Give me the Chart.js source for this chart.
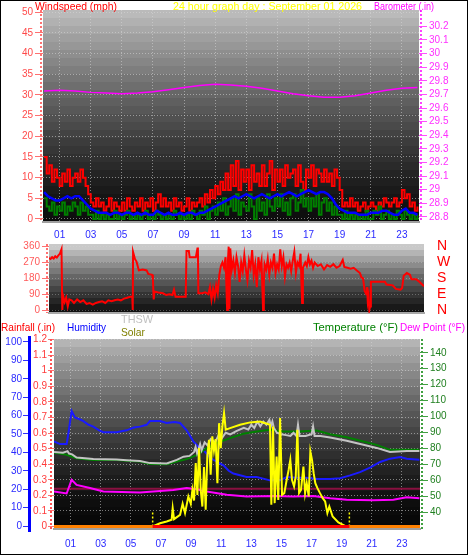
<!DOCTYPE html>
<html>
<head>
<meta charset="utf-8">
<script src="https://cdn.jsdelivr.net/npm/chart.js@4.4.1/dist/chart.umd.min.js"></script>
<style>
html,body{margin:0;padding:0;background:#fff;}
#wrap{position:relative;width:468px;height:555px;overflow:hidden;background:#fff;}
#wrap canvas{position:absolute;left:0;}
#frame{position:absolute;left:0;top:0;width:468px;height:555px;box-sizing:border-box;border:1px solid #000;pointer-events:none;}
.t{position:absolute;font-family:"Liberation Sans",Arial,sans-serif;font-size:11px;line-height:12px;white-space:nowrap;transform-origin:left top;}
</style>
</head>
<body>
<div id="wrap">
<canvas id="c1" width="468" height="245" style="top:0px"></canvas>
<canvas id="c2" width="468" height="80" style="top:238px"></canvas>
<canvas id="c3" width="468" height="235" style="top:320px"></canvas>
<div class="t" data-w="82" style="left:35px;top:0px;color:#ff0000">Windspeed (mph)</div>
<div class="t" data-w="189" style="left:173px;top:0px;color:#ffff00">24 hour graph day : September 01 2026</div>
<div class="t" data-w="60" style="left:374px;top:0px;color:#ff00ff">Barometer (.in)</div>
<div class="t" data-w="54" style="left:1px;top:321px;color:#ff0000">Rainfall (.in)</div>
<div class="t" data-w="39" style="left:67px;top:321px;color:#0000ff">Humidity</div>
<div class="t" data-w="32" style="left:121px;top:313px;color:#c0c0c0">THSW</div>
<div class="t" data-w="24" style="left:121px;top:326px;color:#808000">Solar</div>
<div class="t" data-w="85" style="left:313px;top:321px;color:#008000">Temperature (°F)</div>
<div class="t" data-w="65" style="left:400px;top:321px;color:#ff00ff">Dew Point (°F)</div>
<div id="frame"></div>
</div>
<script>
// ================= DATA =================
const hourTicks = [1,3,5,7,9,11,13,15,17,19,21,23];
const hourTickLabels = ['01','03','05','07','09','11','13','15','17','19','21','23'];

const windTicks = [0,5,10,15,20,25,30,35,40,45,50];
const baroTicks = [28.8,28.9,29,29.1,29.2,29.3,29.4,29.5,29.6,29.7,29.8,29.9,30,30.1,30.2];
const baroTickLabels = ['28.8','28.9','29','29.1','29.2','29.3','29.4','29.5','29.6','29.7','29.8','29.9','30','30.1','30.2'];
const dirTicks = [0,90,180,270,360];
const dirTickLabels = ['0','90','180','270','360'];
const compassLabels = ['N','E','S','W','N'];
const humTicks = [0,10,20,30,40,50,60,70,80,90,100];
const rainTicks = [0,0.1,0.2,0.3,0.4,0.5,0.6,0.7,0.8,0.9,1,1.1,1.2];
const rainTickLabels = ['0','0.1','0.2','0.3','0.4','0.5','0.6','0.7','0.8','0.9','1','1.1','1.2'];
const tempTicks = [40,50,60,70,80,90,100,110,120,130,140];

// wind: 10-minute samples (gust, speed), 15-minute samples (average)
const windGust = [
 15,11,13,9,12,10,  8,11,9,12,8,10,  11,9,12,10,8,6,  4,3,5,3,4,2,
 3,5,2,4,3,2,  4,2,5,3,2,4,  3,5,2,4,3,5,  2,4,6,3,5,3,
 4,2,5,3,4,2,  3,5,2,4,3,4,  5,3,6,4,7,5,  8,6,9,7,11,7,
 13,8,14,7,12,9,  12,7,13,9,11,8,  13,8,11,14,7,12,  9,12,8,13,10,11,
 12,8,13,9,7,12,  10,13,8,12,11,9,  12,9,11,8,12,10,  7,3,4,3,5,3,
 4,2,3,4,2,3,  4,3,2,4,3,5,  4,3,4,5,3,4,  7,5,6,3,4,2,  3];
const windSpeed = [
 5,3,2,4,1,3,  2,4,1,3,2,4,  3,1,4,2,3,1,  1,0,2,0,1,0,
 1,0,0,2,0,1,  0,1,2,0,1,0,  1,0,1,2,0,1,  0,2,1,0,1,0,
 1,0,2,1,0,1,  0,1,0,2,1,0,  2,1,3,0,2,3,  1,4,2,5,1,3,
 5,2,6,1,4,3,  2,6,3,0,5,2,  4,1,6,3,2,5,  3,6,2,4,1,5,
 6,2,4,7,3,5,  2,5,3,6,1,4,  5,2,4,1,3,1,  1,0,2,0,1,0,
 1,0,1,0,2,0,  0,2,1,3,0,1,  2,0,1,0,2,1,  0,2,1,0,1,0,  1];
const windAvg = [
 6.5,5.5,5,4.5,  4.5,5,5.5,5,  5.5,5.5,4.5,3.5,  2.5,2,1.5,1.5,
 1.5,1,1.5,1.5,  1,1.5,1.5,1,  1.5,1,1.5,1,  1,2,1.5,1,
 1.5,1,1,1.5,  1,1.5,1.5,1,  1.5,1.5,2,2.5,  3,3.5,4,4.5,
 5,5.5,5,5.5,  6,5.5,5,5.5,  6,5.5,5,5.5,  6,5.5,6,6.5,
 6,5.5,6,6.5,  7,6.5,6,6.5,  6.5,6,5,3.5,  2.5,2,1.5,1.5,
 1.5,1,1,1,  1.5,1.5,1.5,2,  2,1.5,1,1,  2,2.5,1.5,1.5,  1];

const baroHours = [0,1,2,3,4,5,6,7,8,9,10,11,12,13,14,15,16,17,18,19,20,21,22,23,24];
const barometer = [29.725,29.73,29.725,29.715,29.71,29.705,29.71,29.72,29.735,29.75,29.765,29.775,29.77,29.76,29.745,29.725,29.705,29.69,29.68,29.68,29.69,29.71,29.73,29.745,29.75];

const dirHours = [
 0,0.1,0.2,0.3,0.4,0.5,0.6,0.7,0.8,0.85,
 0.9,1.0,1.1,1.2,1.3,1.45,1.6,1.8,2.0,2.2,
 2.4,2.6,2.8,3.0,3.2,3.4,3.6,3.8,4.0,4.2,
 4.4,4.6,4.8,5.0,5.2,5.33,5.36,5.38,5.5,5.6,
 5.75,6.0,6.25,6.35,6.6,6.65,6.7,6.75,7.0,7.3,
 7.5,7.7,7.9,8.0,8.1,8.4,8.75,8.8,8.95,9.0,
 9.4,9.5,9.53,9.56,9.8,10.0,10.2,10.3,10.4,10.5,
 10.6,10.7,10.8,10.9,11.0,11.1,11.2,11.3,11.4,11.45,
 11.5,11.55,11.6,11.7,11.8,11.9,12.0,12.1,12.2,12.3,
 12.4,12.5,12.6,12.7,12.8,12.9,13.0,13.1,13.2,13.3,
 13.4,13.5,13.6,13.7,13.75,13.8,13.9,14.0,14.1,14.2,
 14.3,14.4,14.5,14.6,14.7,14.8,14.9,15.0,15.1,15.2,
 15.3,15.4,15.5,15.6,15.7,15.8,15.9,16.0,16.1,16.2,
 16.25,16.4,16.5,16.6,16.7,16.8,16.9,17.0,17.2,17.4,
 17.6,17.8,18.0,18.2,18.4,18.6,18.8,18.9,19.1,19.3,
 19.5,19.7,19.9,20.0,20.1,20.2,20.3,20.35,20.4,20.45,
 20.5,20.55,20.6,21.0,21.5,21.6,22.0,22.2,22.5,22.6,
 22.7,22.9,23.1,23.2,23.5,23.7,24.0];
const dirDegrees = [
 295,290,300,292,305,298,310,320,345,0,
 80,45,70,20,60,55,40,60,45,55,
 35,40,30,40,45,50,40,55,50,55,
 60,55,65,70,75,75,0,330,290,275,
 225,230,225,205,200,175,60,105,100,95,
 85,90,85,115,75,75,75,335,335,300,
 300,350,355,95,95,100,90,130,60,120,
 70,140,95,200,250,270,240,300,0,280,
 360,5,350,230,280,210,300,250,160,270,
 220,310,230,170,280,240,340,200,260,130,
 300,230,280,0,150,260,230,290,200,270,
 240,320,210,260,230,345,250,300,190,260,
 240,270,220,280,330,210,270,250,320,40,
 240,270,250,300,260,280,240,270,250,260,
 230,255,245,260,240,250,285,245,240,235,
 240,225,210,185,180,110,90,130,50,80,
 0,20,160,160,160,145,140,120,115,125,
 195,210,200,175,175,160,135];

const humHours = [-0.1,0.3,0.74,0.85,1.07,1.29,1.6,1.85,2.2,2.51,2.9,3.18,4.06,4.72,5.2,5.61,6.05,6.27,6.94,7.38,7.9,8.27,8.71,9.15,9.5,9.82,10.15,10.48,11.15,11.5,11.81,12.69,13.36,14.24,14.91,15.35,16.02,16.68,17.34,18.23,18.89,19.56,20.22,20.88,21.55,22.21,22.88,23.32,24.16];
const humidity = [46,44.5,44.5,50,62.5,59,58,57,55,54,52,51,51,52,53.5,54,55,57,57,56,56.5,56,52,46,43,41.4,38,36,33,30,28.5,26.6,26.6,24.8,24.8,26.6,26.2,26.2,25.6,25.6,26,27.5,29.3,31.7,34.8,36.6,37.5,36.6,36];

const tempHours = [-0.1,0.74,1.4,2.51,4.06,4.72,5.61,6.27,7.38,8.05,8.71,9.37,10.04,10.7,11.59,12.47,13.36,14.24,15.13,16.24,17.34,18.23,19.33,20.44,21.32,22.21,23.32,24.16];
const temperature = [77.6,76.2,74,73,73,72.5,72,70.5,70.3,72,73.5,76,80.4,83.5,86.6,89.3,90.8,91.8,90.8,90.8,91.4,89,87.2,84.5,82.4,79.3,79.3,79.3];

const thswHours = [-0.1,0.5,0.8,0.9,1.1,1.4,2.51,4.06,4.72,5.61,6.27,7.38,8.05,8.5,8.9,9.2,9.3,9.4,9.6,9.7,9.9,10.1,10.3,10.6,10.8,11.0,11.3,11.6,12.0,12.5,12.8,13.0,13.2,13.4,13.6,13.8,14.0,14.2,14.3,14.4,14.5,14.7,15.0,15.3,15.6,15.8,16.0,16.1,16.2,16.6,17.0,17.1,17.2,17.6,18.23,19.33,20.44,21.32,22.21,23.32,24.16];
const thsw = [78,77.5,78.5,77,76.5,74.5,73.5,73.3,72.8,72.3,71,70.8,73,75,75.5,78,81,77,83,79,84,82,86,84,88,86,90,89,91,93,92,95,93,97,94,97,95,98,94,97,93,90,89,88.5,88,90,88,95,88,88,89,94,88,88,87,85,82.5,80.5,78,78.5,78.5];

const dewHours = [-0.1,0.74,1.07,1.4,2.29,3.18,5.61,7.82,8.71,9.37,10.04,11.37,12.69,14.46,15.79,17.12,18.23,19.33,21.1,22.43,23.32,24.16];
const dewPoint = [53.2,52,60.5,57.4,55.4,53.2,52.6,54.2,55.4,54.7,53.2,51.2,50.1,50.5,50.1,50.5,49.1,48.1,47.7,48.1,49.7,49.1];

const solarHours = [6.45,6.94,7.38,7.71,7.78,7.87,8.27,8.44,8.60,8.82,8.98,9.09,9.20,9.31,9.42,9.53,9.64,9.75,9.86,9.97,10.08,10.19,10.30,10.41,10.52,10.63,10.75,10.86,10.97,11.08,11.19,11.30,11.59,12.25,12.92,13.58,14.24,14.33,14.44,14.55,14.68,14.79,14.91,15.04,15.19,15.35,15.48,15.59,15.70,15.84,15.95,16.06,16.17,16.30,16.46,16.57,16.68,16.81,16.92,17.03,17.14,17.25,17.39,17.56,17.74,17.90,18.05,18.18,18.40,18.78,19.22,19.51];
const solar = [0,21,32,43,118,47,75,146,86,193,146,235,167,407,203,503,235,128,381,107,454,556,332,578,488,561,278,663,503,642,728,621,631,653,668,674,653,139,642,150,449,171,696,203,214,300,364,428,300,257,321,621,214,235,385,214,278,193,482,428,342,278,246,214,182,161,86,128,64,26,4,0];
const sunMarkHours = [6.45, 19.51];
const sunMarkTop = 100;

const rainfallHours = [6.45, 19.51];
const rainfall = [0, 0];
const rainTotalHours = [-0.1, 24.2];
const rainTotal = [0, 0];
const tempRefHours = [-0.1, 24.2];
const tempRef = [55, 55];

// ================= HELPERS =================
document.querySelectorAll('.t').forEach(el => {
  const w = el.getBoundingClientRect().width;
  el.style.transform = 'scaleX(' + (parseFloat(el.dataset.w) / w) + ')';
});

Chart.defaults.font.family = '"Liberation Sans", Arial, sans-serif';
Chart.defaults.font.size = 10;
Chart.defaults.animation = false;
Chart.defaults.plugins.legend.display = false;
Chart.defaults.plugins.tooltip.enabled = false;
Chart.defaults.elements.point.radius = 0;
Chart.defaults.elements.line.tension = 0;

const pts = (xs, ys) => ys.map((y, i) => ({x: xs[i], y}));
const tenMin = windGust.map((_, i) => i / 6);
const quarter = windAvg.map((_, i) => i / 4);

const fixTicks = vals => s => { s.ticks = vals.map(v => ({value: v})); };
const zeroPad = s => { s.paddingTop = 0; s.paddingBottom = 0; s.paddingLeft = 0; s.paddingRight = 0; };
const fixWidth = w => s => { s.width = w; zeroPad(s); };
const fixHeight = h => s => { s.height = h; zeroPad(s); };

const bandBg = {
  id: 'bandBg',
  beforeDraw(chart, args, o) {
    const {ctx, chartArea: a} = chart;
    const h = a.bottom - a.top, n = Math.ceil(h / o.band);
    ctx.save();
    for (let i = 0; i < n; i++) {
      const t = (i + 0.5) / n;
      const c = Math.round(o.top * Math.pow(1 - t, o.gamma) + o.bottom);
      ctx.fillStyle = 'rgb(' + c + ',' + c + ',' + c + ')';
      const y0 = a.top + i * o.band;
      ctx.fillRect(a.left, y0, a.right - a.left, Math.min(o.band, a.bottom - y0));
    }
    ctx.restore();
  }
};
const rulers = {
  id: 'rulers',
  afterDraw(chart, args, o) {
    const ctx = chart.ctx;
    (o.items || []).forEach(r => {
      const s = chart.scales[r.id];
      const x = s.position === 'left' ? s.right - r.offset : s.left + r.offset;
      ctx.save();
      ctx.strokeStyle = r.color; ctx.lineWidth = r.width; ctx.setLineDash(r.dash || []);
      ctx.beginPath(); ctx.moveTo(x, s.top - (r.ext || 0)); ctx.lineTo(x, s.bottom + (r.ext || 0)); ctx.stroke();
      ctx.restore();
    });
  }
};
const GRID = 'rgba(215,215,215,0.55)';
const xHourAxis = (min, max, h, pad) => ({
  type: 'linear', min, max, bounds: 'data',
  afterBuildTicks: fixTicks(hourTicks), afterFit: fixHeight(h),
  ticks: {callback: (v, i) => hourTickLabels[i], color: '#2a2aff', padding: pad, autoSkip: false, maxRotation: 0, minRotation: 0},
  grid: {color: GRID, drawTicks: false},
  border: {display: true, color: '#a0a0a0', width: 2, dash: [1, 2]}
});

// ================= PANEL 1 : WIND + BAROMETER =================
new Chart(document.getElementById('c1'), {
  type: 'line',
  data: {datasets: [
    {data: pts(baroHours, barometer), yAxisID: 'yBaro', borderColor: '#ff00ff', borderWidth: 1.5},
    {data: pts(quarter, windAvg), yAxisID: 'yWind', borderColor: '#0000ff', borderWidth: 2.5},
    {data: pts(tenMin, windSpeed), yAxisID: 'yWind', borderColor: '#008000', borderWidth: 2, stepped: true},
    {data: pts(tenMin, windGust), yAxisID: 'yWind', borderColor: '#ff0000', borderWidth: 2, stepped: true}
  ]},
  options: {
    responsive: false,
    layout: {padding: {top: 10, left: 0, right: 0, bottom: 0}},
    plugins: {
      bandBg: {band: 8, top: 180, bottom: 10, gamma: 1.35},
      rulers: {items: [
        {id: 'yWind', offset: 2, color: '#ff7070', width: 2, dash: [2, 2]},
        {id: 'yBaro', offset: 2, color: '#ff40ff', width: 2, dash: [2, 2]}
      ]}
    },
    scales: {
      x: xHourAxis(-0.07, 24.1, 23, 7),
      yWind: {
        position: 'left', min: -0.73, max: 50.56, bounds: 'data',
        afterBuildTicks: fixTicks(windTicks), afterFit: fixWidth(43),
        ticks: {color: '#ff4a4a', padding: 2, autoSkip: false},
        grid: {color: GRID, tickColor: '#ff7070', tickLength: 8},
        border: {display: false, dash: [1, 2]}
      },
      yBaro: {
        position: 'right', min: 28.763, max: 30.32, bounds: 'data',
        afterBuildTicks: fixTicks(baroTicks), afterFit: fixWidth(49),
        ticks: {color: '#ff30ff', padding: 2, autoSkip: false, callback: (v, i) => baroTickLabels[i]},
        grid: {drawOnChartArea: false, tickColor: '#ff50ff', tickLength: 8},
        border: {display: false}
      }
    }
  },
  plugins: [bandBg, rulers]
});

// ================= PANEL 2 : WIND DIRECTION =================
new Chart(document.getElementById('c2'), {
  type: 'line',
  data: {datasets: [
    {data: pts(dirHours, dirDegrees), yAxisID: 'yDir', borderColor: '#ff0000', borderWidth: 2}
  ]},
  options: {
    responsive: false,
    layout: {padding: {top: 6, left: 0, right: 0, bottom: 3}},
    plugins: {
      bandBg: {band: 6, top: 200, bottom: 12, gamma: 1.3},
      rulers: {items: [{id: 'yDir', offset: 2, color: '#ff7070', width: 2, dash: [2, 2]}]}
    },
    scales: {
      x: {
        type: 'linear', min: 0, max: 24, bounds: 'data', afterFit: fixHeight(2),
        ticks: {display: false},
        grid: {drawOnChartArea: false, drawTicks: false},
        border: {display: true, color: '#a8a8a8', width: 2}
      },
      yDir: {
        position: 'left', min: -17, max: 375, bounds: 'data',
        afterBuildTicks: fixTicks(dirTicks), afterFit: fixWidth(49),
        ticks: {color: '#ff5a5a', padding: 2, autoSkip: false, callback: (v, i) => dirTickLabels[i]},
        grid: {color: 'rgba(215,215,215,0.35)', tickColor: '#ff7070', tickLength: 7},
        border: {display: false, dash: [1, 2]}
      },
      yCompass: {
        position: 'right', min: -17, max: 375, bounds: 'data',
        afterBuildTicks: fixTicks(dirTicks), afterFit: fixWidth(44),
        ticks: {color: '#ff0000', padding: 13, autoSkip: false, font: {size: 14}, callback: (v, i) => compassLabels[i]},
        grid: {drawOnChartArea: false, drawTicks: false},
        border: {display: false}
      }
    }
  },
  plugins: [bandBg, rulers]
});

// ================= PANEL 3 : RAIN / HUMIDITY / TEMPERATURE / SOLAR =================
const sunMarkerSets = sunMarkHours.map(h => ({
  data: [{x: h, y: 0}, {x: h, y: sunMarkTop}], yAxisID: 'ySolar',
  borderColor: '#ffff00', borderWidth: 1.5, borderDash: [2, 2]
}));
new Chart(document.getElementById('c3'), {
  type: 'line',
  data: {datasets: [
    {data: pts(rainfallHours, rainfall), yAxisID: 'yRain', borderColor: '#ff0000', borderWidth: 3},
    {data: pts(rainTotalHours, rainTotal), yAxisID: 'yRain', borderColor: '#ff8000', borderWidth: 3},
    {data: pts(solarHours, solar), yAxisID: 'ySolar', borderColor: '#ffff00', borderWidth: 2},
    ...sunMarkerSets,
    {data: pts(thswHours, thsw), yAxisID: 'yTemp', borderColor: '#c4c4c4', borderWidth: 2},
    {data: pts(tempHours, temperature), yAxisID: 'yTemp', borderColor: '#008000', borderWidth: 2},
    {data: pts(humHours, humidity), yAxisID: 'yHum', borderColor: '#1a1aff', borderWidth: 2},
    {data: pts(dewHours, dewPoint), yAxisID: 'yTemp', borderColor: '#ff00ff', borderWidth: 2},
    {data: pts(tempRefHours, tempRef), yAxisID: 'yTemp', borderColor: '#8a1040', borderWidth: 2}
  ]},
  options: {
    responsive: false,
    layout: {padding: {top: 19, left: 0, right: 0, bottom: 0}},
    plugins: {
      bandBg: {band: 8, top: 180, bottom: 6, gamma: 1.6},
      rulers: {items: [
        {id: 'yHum', offset: 1.5, color: '#0000ff', width: 3, dash: [], ext: 3},
        {id: 'yRain', offset: 3, color: '#ff5050', width: 2, dash: [2, 2]},
        {id: 'yTemp', offset: 2, color: '#40a040', width: 2, dash: [2, 2]}
      ]}
    },
    scales: {
      x: xHourAxis(-0.1, 24.2, 26, 9),
      yRain: {
        position: 'left', weight: 0, min: -0.016, max: 1.2032, bounds: 'data',
        afterBuildTicks: fixTicks(rainTicks), afterFit: fixWidth(23),
        ticks: {color: '#ff3a3a', padding: 1, autoSkip: false, callback: (v, i) => rainTickLabels[i]},
        grid: {color: GRID, tickColor: '#ff7070', tickLength: 6},
        border: {display: false, dash: [1, 2]}
      },
      yHum: {
        position: 'left', weight: 1, min: -1.63, max: 101.63, bounds: 'data',
        afterBuildTicks: fixTicks(humTicks), afterFit: fixWidth(31),
        ticks: {color: '#2a2aff', padding: 1, autoSkip: false},
        grid: {drawOnChartArea: false, tickColor: '#3030ff', tickLength: 8},
        border: {display: false}
      },
      yTemp: {
        position: 'right', min: 29.8, max: 148.6, bounds: 'data',
        afterBuildTicks: fixTicks(tempTicks), afterFit: fixWidth(48),
        ticks: {color: '#1f7f1f', padding: 2, autoSkip: false},
        grid: {drawOnChartArea: false, tickColor: '#40a040', tickLength: 8},
        border: {display: false}
      },
      ySolar: {position: 'right', min: -16, max: 1203, display: false}
    }
  },
  plugins: [bandBg, rulers]
});
</script>
</body>
</html>
